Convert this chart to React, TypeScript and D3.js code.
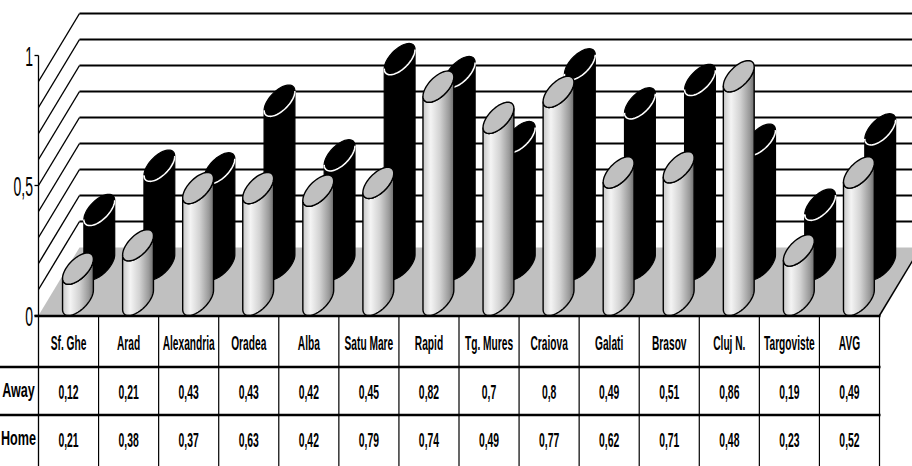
import React from "react";
import * as d3 from "d3";

const categories = ["Sf. Ghe", "Arad", "Alexandria", "Oradea", "Alba", "Satu Mare", "Rapid", "Tg. Mures", "Craiova", "Galati", "Brasov", "Cluj N.", "Targoviste", "AVG"];
const awayValues = [0.12, 0.21, 0.43, 0.43, 0.42, 0.45, 0.82, 0.7, 0.8, 0.49, 0.51, 0.86, 0.19, 0.49];
const homeValues = [0.21, 0.38, 0.37, 0.63, 0.42, 0.79, 0.74, 0.49, 0.77, 0.62, 0.71, 0.48, 0.23, 0.52];
const seriesNames = ["Away", "Home"];
const yTickValues = [0, 0.5, 1];
const yTickLabels = ["0", "0,5", "1"];
const gridValues = [0.1, 0.2, 0.3, 0.4, 0.5, 0.6, 0.7, 0.8, 0.9];

const W = 912;
const H = 466;
const DX = 41;
const DY = -68;
const F = 0.23;
const RX = 12.2;
const depthCenter: Record<string, number> = { Away: 0.23, Home: 0.75 };
const FONT = "'Liberation Sans', Arial, sans-serif";

const x = d3.scaleBand<string>().domain(categories).range([38.5, 879.5]).padding(0);
const y = d3.scaleLinear().domain([0, 1]).range([315.5, 55.5]);

const t0 = Math.atan2(F * DX, RX);

function ept(cx: number, cy: number, t: number): [number, number] {
  return [cx + RX * Math.cos(t) + F * DX * Math.sin(t), cy + F * DY * Math.sin(t)];
}

function arc(cx: number, cy: number, from: number, to: number, n = 40): [number, number][] {
  const pts: [number, number][] = [];
  for (let i = 0; i <= n; i++) {
    const t = from + ((to - from) * i) / n;
    pts.push(ept(cx, cy, t));
  }
  return pts;
}

const line = d3.line<[number, number]>();

function cylinder(cat: string, v: number, series: string) {
  const c = depthCenter[series];
  const cx = (x(cat) as number) + x.bandwidth() / 2 + DX * c;
  const by = y(0) + DY * c;
  const ty = y(v) + DY * c;
  const body: [number, number][] = [
    ept(cx, ty, t0),
    ...arc(cx, by, t0, t0 - Math.PI),
    ...arc(cx, ty, t0 - Math.PI, t0),
  ];
  const top = arc(cx, ty, 0, 2 * Math.PI, 60);
  const front = arc(cx, ty, t0 - Math.PI, t0);
  return { body: line(body) + "Z", top: line(top) + "Z", front: line(front) as string };
}

function Txt({ x0, y0, text, size, weight, anchor, sx }: any) {
  return (
    <text
      transform={`translate(${x0},${y0}) scale(${sx},1)`}
      textAnchor={anchor}
      fontFamily={FONT}
      fontSize={size}
      fontWeight={weight}
      fill="#000"
    >
      {text}
    </text>
  );
}

const fmt = (v: number) => String(v).replace(".", ",");

export default function App() {
  const x0 = 38.5;
  const xEnd = 879.5;
  const floor: [number, number][] = [
    [x0, y(0)],
    [xEnd, y(0)],
    [xEnd + DX, y(0) + DY],
    [x0 + DX, y(0) + DY],
  ];
  const rows = [
    { name: seriesNames[0], values: awayValues, base: 398.5 },
    { name: seriesNames[1], values: homeValues, base: 447 },
  ];
  return (
    <svg width={W} height={H} style={{ position: "absolute", left: 0, top: 0, background: "#fff" }}>
      <defs>
        <linearGradient id="awayGrad" x1="0" x2="1" y1="0" y2="0">
          <stop offset="0" stopColor="#c8c8c8" />
          <stop offset="0.25" stopColor="#f4f4f4" />
          <stop offset="0.55" stopColor="#d2d2d2" />
          <stop offset="0.85" stopColor="#9a9a9a" />
          <stop offset="1" stopColor="#6e6e6e" />
        </linearGradient>
      </defs>
      <rect width={W} height={H} fill="#fff" />
      {gridValues.map((g) => (
        <line key={"bg" + g} x1={x0 + DX} x2={W} y1={y(g) + DY} y2={y(g) + DY} stroke="#000" strokeWidth={2.2} />
      ))}
      {gridValues.map((g) => (
        <line key={"sd" + g} x1={x0} y1={y(g)} x2={x0 + DX} y2={y(g) + DY} stroke="#000" strokeWidth={1.4} />
      ))}
      <path d={line(floor) + "Z"} fill="#c0c0c0" />
      <line x1={xEnd} y1={y(0)} x2={xEnd + DX} y2={y(0) + DY} stroke="#000" strokeWidth={1.5} />
      {categories.map((cat, i) => {
        const cy = cylinder(cat, homeValues[i], "Home");
        return (
          <g key={"h" + cat}>
            <path d={cy.body} fill="#000" stroke="#000" strokeWidth={1.2} />
            <path d={cy.top} fill="#000" stroke="#000" strokeWidth={1.2} />
            <path d={cy.front} fill="none" stroke="#fff" strokeWidth={1.6} />
          </g>
        );
      })}
      {categories.map((cat, i) => {
        const cy = cylinder(cat, awayValues[i], "Away");
        return (
          <g key={"a" + cat}>
            <path d={cy.body} fill="url(#awayGrad)" stroke="#000" strokeWidth={1.4} />
            <path d={cy.top} fill="#c0c0c0" stroke="#000" strokeWidth={1.4} />
          </g>
        );
      })}
      <line x1={x0} x2={x0} y1={y(1)} y2={H} stroke="#000" strokeWidth={1.3} />
      {yTickValues.map((t) => (
        <line key={"yt" + t} x1={x0 - 4} x2={x0} y1={y(t)} y2={y(t)} stroke="#000" strokeWidth={1.3} />
      ))}
      {yTickValues.map((t, i) => (
        <Txt key={"yl" + t} x0={33} y0={y(t) + 10} text={yTickLabels[i]} size={28} weight="normal" anchor="end" sx={0.5} />
      ))}
      <line x1={x0 - 4} x2={xEnd + 1} y1={y(0) + 0.5} y2={y(0) + 0.5} stroke="#000" strokeWidth={2.4} />
      {categories.map((cat) => (
        <line key={"vl" + cat} x1={(x(cat) as number) + x.bandwidth()} x2={(x(cat) as number) + x.bandwidth()} y1={y(0)} y2={H} stroke="#000" strokeWidth={1.2} />
      ))}
      <line x1={0} x2={xEnd + 1} y1={367} y2={367} stroke="#000" strokeWidth={2.4} />
      <line x1={0} x2={xEnd + 1} y1={415} y2={415} stroke="#000" strokeWidth={2.4} />
      {categories.map((cat) => (
        <Txt key={"cl" + cat} x0={(x(cat) as number) + x.bandwidth() / 2} y0={349.5} text={cat} size={20} weight="bold" anchor="middle" sx={0.51} />
      ))}
      {rows.map((r) => (
        <g key={"row" + r.name}>
          <Txt x0={18.5} y0={r.base - 2} text={r.name} size={20} weight="bold" anchor="middle" sx={0.63} />
          {categories.map((cat, i) => (
            <Txt key={cat} x0={(x(cat) as number) + x.bandwidth() / 2} y0={r.base} text={fmt(r.values[i])} size={20} weight="bold" anchor="middle" sx={0.52} />
          ))}
        </g>
      ))}
    </svg>
  );
}
